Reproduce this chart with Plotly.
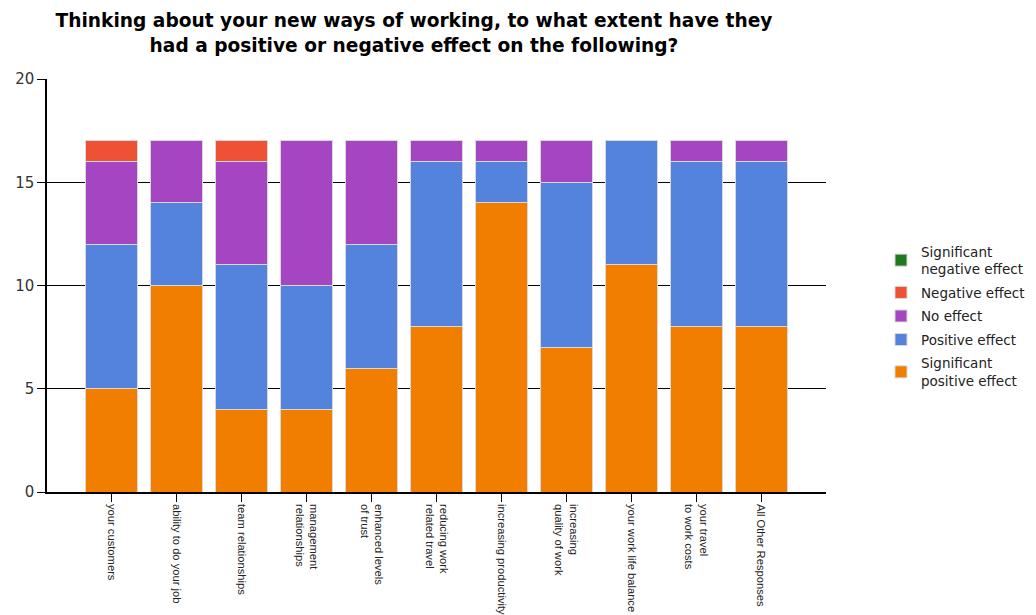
import plotly.graph_objects as go

categories = [
    "your customers",
    "ability to do your job",
    "team relationships",
    "management<br>relationships",
    "enhanced levels<br>of trust",
    "reducing work<br>related travel",
    "increasing productivity",
    "increasing<br>quality of work",
    "your work life balance",
    "your travel<br>to work costs",
    "All Other Responses",
]

sig_positive = [5, 10, 4, 4, 6, 8, 14, 7, 11, 8, 8]
positive = [7, 4, 7, 6, 6, 8, 2, 8, 6, 8, 8]
no_effect = [4, 3, 5, 7, 5, 1, 1, 2, 0, 1, 1]
negative = [1, 0, 1, 0, 0, 0, 0, 0, 0, 0, 0]
sig_negative = [0, 0, 0, 0, 0, 0, 0, 0, 0, 0, 0]

series = [
    ("Significant<br>positive effect", sig_positive, "#F27E00"),
    ("Positive effect", positive, "#5383DC"),
    ("No effect", no_effect, "#A645C2"),
    ("Negative effect", negative, "#EE5133"),
    ("Significant<br>negative effect", sig_negative, "#1F7A1F"),
]

x_idx = list(range(len(categories)))

fig = go.Figure()
for i, (name, vals, col) in enumerate(series):
    fig.add_trace(go.Bar(
        x=x_idx, y=vals, name=name, width=0.8, legendgroup=f"g{i}",
        legendrank=1000 - i,
        marker=dict(color=col, line=dict(color="#D8D8D8", width=1)),
    ))

# page body has an 8px margin, so figure is sized/offset accordingly
fig.update_layout(
    barmode="stack",
    width=1028, height=607,
    margin=dict(l=39, r=210, t=71, b=123, autoexpand=False),
    paper_bgcolor="white", plot_bgcolor="white",
    font=dict(family="Liberation Sans, Arial, sans-serif", color="#222"),
    title=dict(
        text="Thinking about your new ways of working, to what extent have they<br>had a positive or negative effect on the following?",
        x=406 / 1028, xref="container", xanchor="center",
        y=0.968, yref="container", yanchor="top",
        font=dict(size=18.6, family="DejaVu Sans, sans-serif", color="#000", weight="bold"),
    ),
    legend=dict(
        traceorder="grouped", x=1.0706, xanchor="left", y=0.426, yanchor="middle",
        font=dict(size=13.5, family="DejaVu Sans, sans-serif", color="#222"),
        itemwidth=30, tracegroupgap=3,
    ),
    showlegend=True,
)
fig.update_xaxes(
    tickmode="array", tickvals=x_idx, ticktext=categories,
    range=[-1, 11.0], tickangle=90, automargin=False,
    showline=True, linecolor="black", linewidth=1.5,
    ticks="outside", ticklen=8, tickcolor="black",
    tickfont=dict(size=11.2, color="#222"),
    showgrid=False, zeroline=False,
)
fig.update_yaxes(
    range=[0, 20], tickvals=[0, 5, 10, 15, 20], automargin=False,
    showline=True, linecolor="black", linewidth=1.5,
    ticks="outside", ticklen=8, tickcolor="black",
    showgrid=True, gridcolor="black", gridwidth=1,
    tickfont=dict(size=15, family="DejaVu Sans, sans-serif", color="#333"),
    zeroline=False,
)
fig.write_html("out.html")
